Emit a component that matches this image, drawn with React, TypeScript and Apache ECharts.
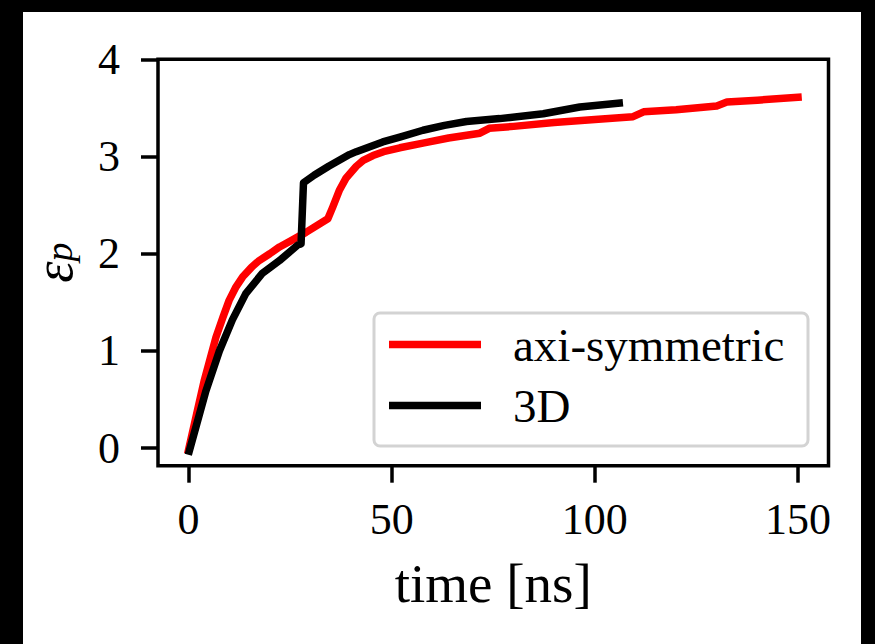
import React, { useEffect, useRef } from "react";
import * as echarts from "echarts";

// axi-symmetric run
const tAxi = [0, 2, 3.9, 6.75, 8.5, 10, 11.7, 13.3, 15.5, 17.4, 20, 22.4, 25.5, 28.9, 34.3, 35.5, 37.1, 38.8, 41.3, 43, 45.4, 48, 52, 58, 64, 71.7, 74, 80, 90, 100, 109.4, 112, 120, 130, 132.5, 140, 150];
const epsAxi = [-0.02, 0.35, 0.7, 1.14, 1.35, 1.52, 1.66, 1.76, 1.86, 1.93, 2.0, 2.07, 2.14, 2.22, 2.36, 2.48, 2.65, 2.78, 2.9, 2.96, 3.01, 3.05, 3.09, 3.14, 3.19, 3.24, 3.29, 3.31, 3.35, 3.38, 3.41, 3.46, 3.48, 3.52, 3.56, 3.58, 3.61];

// 3D run
const t3D = [0.2, 4.3, 7.6, 10.8, 14.1, 18.2, 22.4, 26.9, 27.7, 28.3, 31, 34.5, 39.6, 41.3, 47.8, 52, 57.7, 63, 68.4, 76.6, 87.3, 96.3, 106];
const eps3D = [-0.03, 0.59, 1.0, 1.32, 1.59, 1.8, 1.93, 2.09, 2.1, 2.73, 2.81, 2.9, 3.02, 3.05, 3.15, 3.2, 3.27, 3.32, 3.36, 3.39, 3.44, 3.51, 3.55];

const xTicks = [0, 50, 100, 150];
const yTicks = [0, 1, 2, 3, 4];
const seriesNames = ["axi-symmetric", "3D"];

const FONT = "'Liberation Serif', 'Times New Roman', serif";

export default function App() {
  const ref = useRef<HTMLDivElement>(null);
  useEffect(() => {
    const chart = echarts.init(ref.current!, null, { renderer: "svg" });
    chart.setOption({
      animation: false,
      backgroundColor: "#ffffff",
      grid: {
        show: true,
        left: 135,
        top: 47.3,
        right: 32.5,
        bottom: 178.3,
        containLabel: false,
        outerBoundsMode: "none",
        borderColor: "#000",
        borderWidth: 3.5,
        backgroundColor: "transparent",
      },
      xAxis: {
        type: "value",
        min: -7.5,
        max: 157.5,
        name: "time [ns]",
        nameLocation: "middle",
        nameGap: 90,
        nameTextStyle: { fontFamily: FONT, fontSize: 55, color: "#000" },
        axisLine: { show: false, onZero: false },
        splitLine: { show: false },
        axisTick: {
          show: true,
          inside: false,
          length: 17,
          customValues: xTicks,
          lineStyle: { color: "#000", width: 3.5 },
        },
        axisLabel: {
          customValues: xTicks,
          margin: 32,
          fontFamily: FONT,
          fontSize: 44,
          color: "#000",
        },
      },
      yAxis: {
        type: "value",
        min: -0.18,
        max: 4,
        name: "{e|ε}{p|p}",
        nameLocation: "middle",
        nameRotate: 90,
        nameGap: 80,
        nameTextStyle: {
          fontFamily: FONT,
          color: "#000",
          rich: {
            e: { fontFamily: FONT, fontSize: 54, fontStyle: "italic", lineHeight: 48, verticalAlign: "middle", color: "#000" },
            p: { fontFamily: FONT, fontSize: 38, fontStyle: "italic", lineHeight: 22, verticalAlign: "bottom", color: "#000" },
          },
        },
        axisLine: { show: false, onZero: false },
        splitLine: { show: false },
        axisTick: {
          show: true,
          inside: false,
          length: 17,
          customValues: yTicks,
          lineStyle: { color: "#000", width: 3.5 },
        },
        axisLabel: {
          customValues: yTicks,
          margin: 38,
          fontFamily: FONT,
          fontSize: 44,
          color: "#000",
        },
      },
      legend: {
        data: seriesNames,
        orient: "vertical",
        left: 366,
        top: 309,
        padding: 0,
        icon: "rect",
        itemWidth: 92,
        itemHeight: 7.5,
        itemGap: 14,
        textStyle: { fontFamily: FONT, fontSize: 47, color: "#000", lineHeight: 44, padding: [0, 0, 0, 27] },
        z: 5,
      },
      graphic: [
        {
          type: "rect",
          z: 1,
          shape: { x: 351, y: 301, width: 434, height: 133, r: 6 },
          style: { fill: "#fff", stroke: "#d3d3d3", lineWidth: 3 },
        },
      ],
      series: [
        {
          name: seriesNames[0],
          type: "line",
          data: tAxi.map((t, i) => [t, epsAxi[i]]),
          symbol: "none",
          lineStyle: { color: "#ff0000", width: 7.5, cap: "square", join: "round" },
          itemStyle: { color: "#ff0000" },
          z: 2,
        },
        {
          name: seriesNames[1],
          type: "line",
          data: t3D.map((t, i) => [t, eps3D[i]]),
          symbol: "none",
          lineStyle: { color: "#000000", width: 7.5, cap: "square", join: "round" },
          itemStyle: { color: "#000000" },
          z: 3,
        },
      ],
    });
    return () => chart.dispose();
  }, []);
  return (
    <div style={{ position: "fixed", left: 0, top: 0, width: 875, height: 644, background: "#000", overflow: "hidden" }}>
      <div ref={ref} style={{ position: "absolute", left: 23, top: 12, width: 838, height: 632, background: "#fff" }} />
    </div>
  );
}
